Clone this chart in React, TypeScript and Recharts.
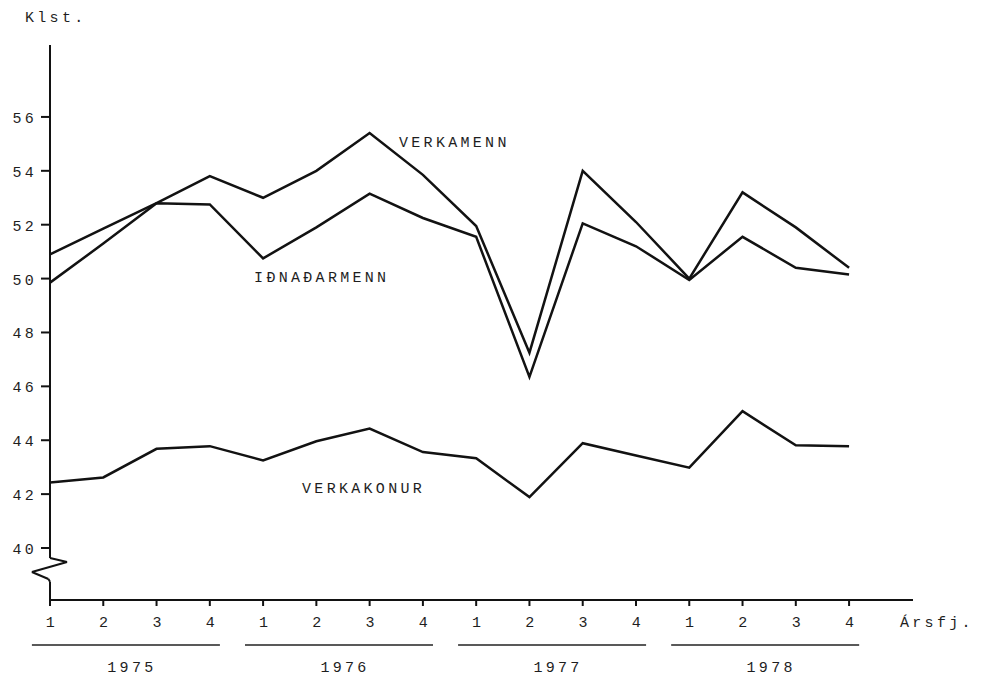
import React from 'react';
import { LineChart, Line, XAxis, YAxis, ReferenceLine, ReferenceDot } from 'recharts';

const quarterLabels = ['1', '2', '3', '4', '1', '2', '3', '4', '1', '2', '3', '4', '1', '2', '3', '4'];
const yearLabels = ['1975', '1976', '1977', '1978'];
const yTicks = [40, 42, 44, 46, 48, 50, 52, 54, 56];

const verkamenn = [50.9, 51.85, 52.8, 53.8, 53.0, 54.0, 55.4, 53.85, 51.95, 47.25, 54.0, 52.1, 50.0, 53.2, 51.9, 50.4];
const idnadarmenn = [49.85, 51.3, 52.8, 52.75, 50.75, 51.9, 53.15, 52.25, 51.55, 46.35, 52.05, 51.2, 49.95, 51.55, 50.4, 50.15];
const verkakonur = [42.43, 42.62, 43.68, 43.78, 43.25, 43.96, 44.43, 43.56, 43.33, 41.89, 43.89, 43.43, 42.98, 45.08, 43.81, 43.78];

const data = quarterLabels.map((q, i) => ({
  i,
  verkamenn: verkamenn[i],
  idnadarmenn: idnadarmenn[i],
  verkakonur: verkakonur[i],
}));
const yearTicks = yearLabels.map((_, k) => k * 4 + 1.5);

const FONT = "'Liberation Mono', 'DejaVu Sans Mono', monospace";
const INK = '#121212';
const textStyle = { fontFamily: FONT, fontSize: 15, letterSpacing: 3.3, fill: '#1e1e1e' } as const;

const Y_TOP = 58.67;
const Y_BOTTOM = 38.07;
const X_MAX = 16.2;

const YTick = (props: any) => {
  const { x, y, payload } = props;
  return (
    <text x={x - 4} y={y + 6} textAnchor="end" style={textStyle}>
      {payload.value}
    </text>
  );
};

const QTick = (props: any) => {
  const { x, y, payload } = props;
  return (
    <text x={x + 2} y={y + 21} textAnchor="middle" style={textStyle}>
      {quarterLabels[payload.value]}
    </text>
  );
};

const YearTick = (props: any) => {
  const { x, y, payload } = props;
  const idx = Math.round((payload.value - 1.5) / 4);
  return (
    <g>
      <line x1={x - 98} x2={x + 90} y1={y + 15} y2={y + 15} stroke="#222" strokeWidth={1.4} />
      <text x={x + 2} y={y + 42} textAnchor="middle" style={textStyle}>
        {yearLabels[idx]}
      </text>
    </g>
  );
};

const seriesLabel = (text: string) => (props: any) => {
  const vb = props.viewBox || {};
  return (
    <text x={vb.x} y={(vb.y || 0) + 6} textAnchor="start" style={textStyle}>
      {text}
    </text>
  );
};

const KlstLabel = (props: any) => {
  const vb = props.viewBox || {};
  return (
    <text x={(vb.x || 0) + 17} y={(vb.y || 0) - 23} textAnchor="start" style={textStyle}>
      Klst.
    </text>
  );
};

const ArsLabel = (props: any) => {
  const vb = props.viewBox || {};
  return (
    <text x={(vb.x || 0) + (vb.width || 0) - 13} y={(vb.y || 0) + 27} textAnchor="start" style={textStyle}>
      Ársfj.
    </text>
  );
};

const axisSegments = [
  [{ x: 0, y: Y_TOP }, { x: 0, y: 39.63 }],
  [{ x: 0, y: 39.63 }, { x: 0.32, y: 39.48 }],
  [{ x: 0.32, y: 39.48 }, { x: -0.34, y: 39.11 }],
  [{ x: -0.34, y: 39.11 }, { x: -0.03, y: 38.85 }],
  [{ x: -0.03, y: 38.85 }, { x: 0, y: 38.75 }],
  [{ x: 0, y: 38.75 }, { x: 0, y: Y_BOTTOM }],
];

export default function App() {
  return (
    <div style={{ width: 978, height: 670 }}>
      <LineChart
        width={978}
        height={670}
        data={data}
        margin={{ top: 37, right: 73, bottom: 0, left: 0 }}
      >
        <XAxis
          dataKey="i"
          type="number"
          domain={[0, X_MAX]}
          ticks={data.map((d) => d.i)}
          interval={0}
          allowDataOverflow
          height={30}
          tickSize={6}
          tickMargin={0}
          axisLine={{ stroke: INK, strokeWidth: 2 }}
          tickLine={{ stroke: INK, strokeWidth: 2 }}
          tick={<QTick />}
          label={{ content: <ArsLabel /> }}
        />
        <XAxis
          xAxisId="year"
          dataKey="i"
          type="number"
          domain={[0, X_MAX]}
          ticks={yearTicks}
          interval={0}
          allowDataOverflow
          height={48}
          tickSize={0}
          tickMargin={0}
          axisLine={false}
          tickLine={false}
          tick={<YearTick />}
        />
        <YAxis
          type="number"
          domain={[Y_BOTTOM, Y_TOP]}
          ticks={yTicks}
          interval={0}
          allowDataOverflow
          width={42}
          tickSize={9}
          tickMargin={0}
          axisLine={false}
          tickLine={{ stroke: INK, strokeWidth: 2 }}
          tick={<YTick />}
          label={{ content: <KlstLabel /> }}
        />
        {axisSegments.map((seg, k) => (
          <ReferenceLine
            key={k}
            segment={seg}
            stroke={INK}
            strokeWidth={2}
            ifOverflow="visible"
          />
        ))}
        <Line type="linear" dataKey="verkamenn" stroke={INK} strokeWidth={2.5} dot={false} isAnimationActive={false} />
        <Line type="linear" dataKey="idnadarmenn" stroke={INK} strokeWidth={2.5} dot={false} isAnimationActive={false} />
        <Line type="linear" dataKey="verkakonur" stroke={INK} strokeWidth={2.5} dot={false} isAnimationActive={false} />
        <ReferenceDot x={6.57} y={55.07} r={1} fill="none" stroke="none" ifOverflow="visible" label={{ content: seriesLabel('VERKAMENN') }} />
        <ReferenceDot x={3.85} y={50.06} r={1} fill="none" stroke="none" ifOverflow="visible" label={{ content: seriesLabel('IÐNAÐARMENN') }} />
        <ReferenceDot x={4.75} y={42.23} r={1} fill="none" stroke="none" ifOverflow="visible" label={{ content: seriesLabel('VERKAKONUR') }} />
      </LineChart>
    </div>
  );
}
